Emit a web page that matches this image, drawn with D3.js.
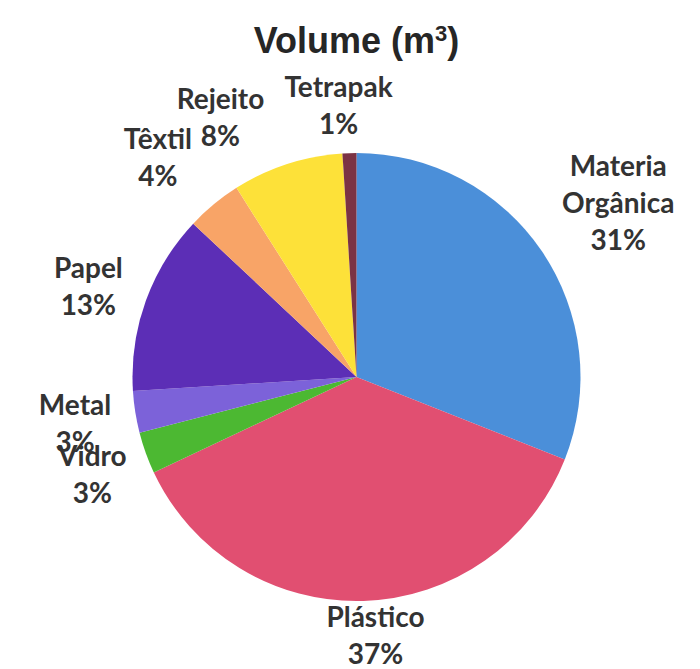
<!DOCTYPE html>
<html>
<head>
<meta charset="utf-8">
<script src="https://cdn.jsdelivr.net/npm/d3@7"></script>
<style>
  body { margin: 0; background: #fff; }
  svg { display: block; }
</style>
</head>
<body>
<svg id="viz"></svg>
<script>
// dados (percentual do volume)
const categorias = ["Materia Orgânica", "Plástico", "Vidro", "Metal", "Papel", "Têxtil", "Rejeito", "Tetrapak"]
const valores = [31, 37, 3, 3, 13, 4, 8, 1]
const cores = ["#4b8fd9", "#e14f71", "#4cb832", "#7c62d9", "#5c2eb6", "#f8a467", "#fde139", "#7b3344"]

const width = 700
const height = 669
const cx = 356.5
const cy = 377
const radius = 224

const svg = d3.select("#viz")
    .attr("width", width)
    .attr("height", height)

const data = categorias.map((c, i) => ({categoria: c, valor: valores[i]}))

const pie = d3.pie()
    .value(d => d.valor)
    .sort(null)

const arc = d3.arc()
    .innerRadius(0)
    .outerRadius(radius)

const labelArc = d3.arc()
    .innerRadius(285)
    .outerRadius(285)

const color = d3.scaleOrdinal()
    .domain(categorias)
    .range(cores)

const arcs = pie(data)

const g = svg.append("g")
    .attr("transform", `translate(${cx},${cy})`)

g.selectAll("path")
    .data(arcs)
    .join("path")
    .attr("d", arc)
    .attr("fill", d => color(d.data.categoria))

// ajustes finos das etiquetas (como o Excel posicionou)
const nudge = {
    "Materia Orgânica": [26, -15],
    "Plástico": [10, -27],
    "Vidro": [4, 0],
    "Metal": [0, 1],
    "Papel": [0, 5],
    "Têxtil": [-17, -1],
    "Rejeito": [-48, 11],
    "Tetrapak": [-9, 12]
}

const lineH = 37

const labels = g.append("g")
    .attr("font-family", "Lato, 'Open Sans', sans-serif")
    .attr("font-weight", "bold")
    .attr("font-size", 28)
    .attr("fill", "#333")
    .attr("text-anchor", "middle")
    .selectAll("text")
    .data(arcs)
    .join("text")
    .attr("transform", d => {
        const [x, y] = labelArc.centroid(d)
        const n = nudge[d.data.categoria] || [0, 0]
        return `translate(${x + n[0]},${y + n[1]})`
    })

labels.each(function(d) {
    const linhas = d.data.categoria === "Materia Orgânica"
        ? ["Materia", "Orgânica"]
        : [d.data.categoria]
    linhas.push(d.data.valor + "%")
    const t = d3.select(this)
    const y0 = -(linhas.length - 1) * lineH / 2
    linhas.forEach((l, i) => {
        t.append("tspan")
            .attr("x", 0)
            .attr("y", y0 + i * lineH)
            .attr("dominant-baseline", "central")
            .text(l)
    })
})

// titulo
const title = svg.append("text")
    .attr("x", cx)
    .attr("y", 53)
    .attr("text-anchor", "middle")
    .attr("font-family", "'Liberation Sans', Arial, sans-serif")
    .attr("font-weight", "bold")
    .attr("font-size", 36)
    .attr("fill", "#262626")

title.append("tspan").text("Volume (m")
title.append("tspan")
    .attr("font-size", 22)
    .attr("dy", -12)
    .text("3")
title.append("tspan")
    .attr("dy", 12)
    .text(")")
</script>
</body>
</html>
